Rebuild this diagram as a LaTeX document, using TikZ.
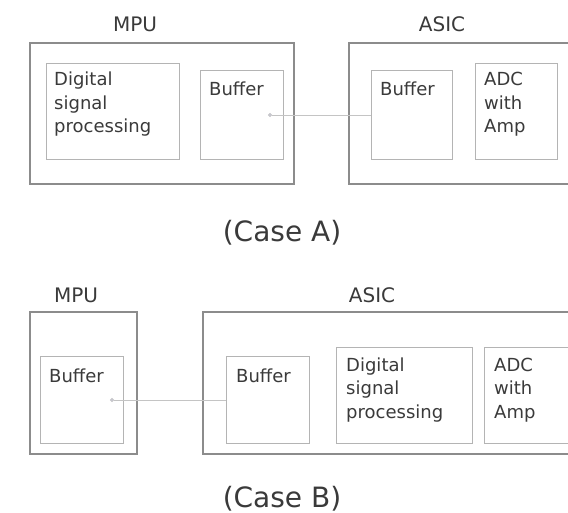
\documentclass[tikz,border=0pt]{standalone}
\usepackage{fontspec}
\setmainfont{DejaVu Sans}
\usetikzlibrary{arrows.meta}
\definecolor{outer}{HTML}{8C8C8C}
\definecolor{inner}{HTML}{B4B4B4}
\definecolor{txt}{HTML}{3A3A3A}
\definecolor{wire}{HTML}{C4C4C4}
\begin{document}
\begin{tikzpicture}[x=1pt,y=-1pt,
  outerbox/.style={draw=outer,line width=1.6pt,anchor=north west,inner sep=0pt},
  innerbox/.style={draw=inner,line width=1.1pt,anchor=north west,inner sep=0pt},
  btext/.style={text=txt,anchor=base west,inner sep=0pt,align=left,font=\fontsize{18}{23.5}\selectfont},
  title/.style={text=txt,anchor=base,inner sep=0pt,font=\fontsize{20}{24}\selectfont},
  caption/.style={text=txt,anchor=base,inner sep=0pt,font=\fontsize{28}{32}\selectfont},
  wireline/.style={draw=wire,line width=0.9pt,{Circle[length=4pt,fill=wire!70!blue!40]}-}]
\useasboundingbox (0,0) rectangle (568,513);
\clip (0,0) rectangle (568,513);
% ---------- Case A ----------
\node[title] (mpuA) at (135,32) {MPU};
\node[title] (asicA) at (442,32) {ASIC};
\node[outerbox,minimum width=264pt,minimum height=141pt] (mpuboxA) at (29,42) {};
\node[outerbox,minimum width=240pt,minimum height=141pt] (asicboxA) at (348,42) {};
\node[innerbox,minimum width=133pt,minimum height=96pt] (dspA) at (46,63) {};
\node[innerbox,minimum width=83pt,minimum height=89pt] (bufmA) at (200,70) {};
\node[innerbox,minimum width=81pt,minimum height=89pt] (bufaA) at (371,70) {};
\node[innerbox,minimum width=82pt,minimum height=96pt] (adcA) at (475,63) {};
\node[btext] (dspAt) at (54,133) {Digital\\signal\\processing};
\node[btext] (bufmAt) at (209,96) {Buffer};
\node[btext] (bufaAt) at (380,96) {Buffer};
\node[btext] (adcAt) at (484,133) {ADC\\with\\Amp};
\coordinate (endA) at (268,115);
\draw[wireline] (endA) -- (bufaA.west |- endA);
\node[caption] (capA) at (282,242) {(Case A)};
% ---------- Case B ----------
\node[title] (mpuB) at (76,303) {MPU};
\node[title] (asicB) at (372,302) {ASIC};
\node[outerbox,minimum width=107pt,minimum height=142pt] (mpuboxB) at (29,311) {};
\node[outerbox,minimum width=380pt,minimum height=142pt] (asicboxB) at (202,311) {};
\node[innerbox,minimum width=83pt,minimum height=87pt] (bufmB) at (40,356) {};
\node[innerbox,minimum width=83pt,minimum height=87pt] (bufaB) at (226,356) {};
\node[innerbox,minimum width=136pt,minimum height=96pt] (dspB) at (336,347) {};
\node[innerbox,minimum width=84pt,minimum height=96pt] (adcB) at (484,347) {};
\node[btext] (bufmBt) at (49,382) {Buffer};
\node[btext] (bufaBt) at (236,382) {Buffer};
\node[btext] (dspBt) at (346,418) {Digital\\signal\\processing};
\node[btext] (adcBt) at (494,418) {ADC\\with\\Amp};
\coordinate (endB) at (110,400);
\draw[wireline] (endB) -- (bufaB.west |- endB);
\node[caption] (capB) at (282,507) {(Case B)};
\end{tikzpicture}
\end{document}
